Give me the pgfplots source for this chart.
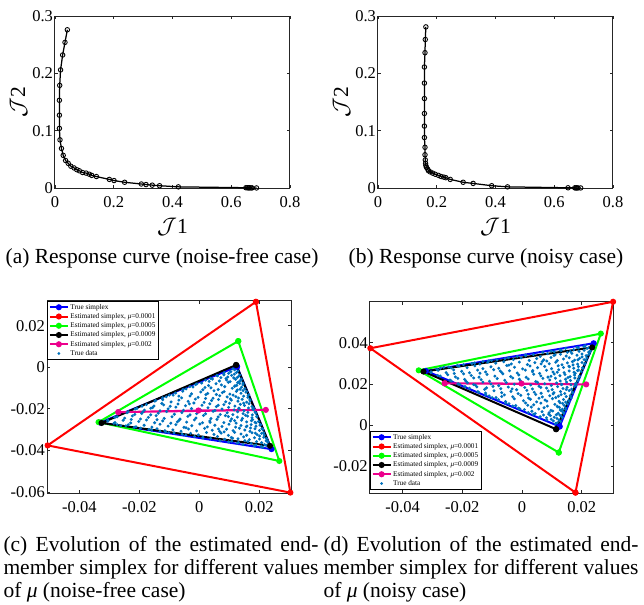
\documentclass[border=0pt]{standalone}
\usepackage{pgfplots}
\pgfplotsset{compat=1.18}
\usepackage{fontspec}
\setmainfont{Liberation Serif}

\definecolor{mblue}{rgb}{0,0.447,0.741}
\definecolor{axgray}{gray}{0.15}

\pgfplotsset{
  mat/.style={
    scale only axis, clip=false,
    axis line style={axgray, line width=0.4pt},
    tick align=inside, tick pos=both, major tick length=1.2pt,
    every tick/.style={axgray, line width=0.3pt},
    tick label style={font=\fontsize{6.6}{7}\selectfont, text=black},
    yticklabel style={inner xsep=0.6pt},
    label style={font=\fontsize{8.6}{9}\selectfont},
    scaled ticks=false,
  },
  resp/.style={mat, width=94pt, height=68.8pt,
    xmin=0, xmax=0.8, ymin=0, ymax=0.3,
    xtick={0,0.2,0.4,0.6,0.8}, xticklabels={0,0.2,0.4,0.6,0.8},
    ytick={0,0.1,0.2,0.3}, yticklabels={0,0.1,0.2,0.3},
    xlabel={$\mathcal{J}$1}, ylabel={$\mathcal{J}$2},
    xlabel style={at={(axis description cs:0.5,-0.225)}, anchor=center},
    ylabel style={at={(axis description cs:-0.155,0.5)}, anchor=center}},
  curve/.style={black, line width=0.5pt, mark=o, mark size=0.9pt, mark options={line width=0.35pt}},
  simp/.style={line width=0.8pt, mark=*, mark size=0.8pt},
  dots/.style={only marks, mark=*, mark size=0.38pt, mblue, mark options={draw=none, fill=mblue}},
  simplegend/.style={
    legend cell align=left,
    legend image code/.code={\draw[mark repeat=2,mark phase=2,##1] plot coordinates {(0pt,0pt) (3.6pt,0pt) (7.2pt,0pt)};},
    legend style={draw=black, line width=0.3pt, fill=white,
      font=\fontsize{2.9}{3.5}\selectfont, inner sep=0.6pt, row sep=0pt,
      nodes={inner xsep=0.6pt, inner ysep=0.4pt, text height=2.2pt, text depth=0.7pt}}},
}

\begin{document}
\begin{tikzpicture}
\path[use as bounding box] (0,0) rectangle (257.6pt,-241.6pt);

% (a) response curve, noise-free
\begin{axis}[resp, at={(22pt,-75.2pt)}, anchor=south west]
\addplot[curve] coordinates {
(0.042,0.276) (0.034,0.254) (0.026,0.232) (0.019,0.206) (0.016,0.179) (0.015,0.153)
(0.015,0.127) (0.015,0.104) (0.017,0.084) (0.022,0.069) (0.028,0.057) (0.036,0.048)
(0.045,0.043) (0.054,0.038) (0.065,0.035) (0.074,0.032) (0.083,0.030) (0.094,0.027)
(0.106,0.026) (0.117,0.024) (0.125,0.022) (0.141,0.020) (0.185,0.015) (0.201,0.013)
(0.237,0.010) (0.294,0.007) (0.310,0.006) (0.331,0.005) (0.356,0.004) (0.420,0.002)
(0.650,0.0005) (0.655,0.0004) (0.659,0.0003) (0.662,0.0003) (0.667,0.0002) (0.671,0.0002)
(0.686,0.0001)};
\end{axis}

% (b) response curve, noisy
\begin{axis}[resp, at={(151.2pt,-75.2pt)}, anchor=south west]
\addplot[curve] coordinates {
(0.163,0.281) (0.161,0.259) (0.160,0.236) (0.158,0.211) (0.158,0.183) (0.158,0.156)
(0.158,0.130) (0.158,0.108) (0.158,0.088) (0.160,0.071) (0.160,0.058) (0.161,0.049)
(0.162,0.043) (0.163,0.039) (0.165,0.036) (0.169,0.033) (0.172,0.030) (0.178,0.028)
(0.186,0.026) (0.195,0.024) (0.206,0.022) (0.215,0.020) (0.224,0.019) (0.231,0.018)
(0.246,0.015) (0.290,0.010) (0.324,0.008) (0.387,0.004) (0.441,0.002) (0.647,0.0004)
(0.670,0.0003) (0.674,0.0002) (0.677,0.0002) (0.681,0.0001) (0.690,0.0001)};
\end{axis}

% (c) simplexes, noise-free
\begin{axis}[mat, simplegend, width=97.6pt, height=76.9pt,
  at={(18.8pt,-197.2pt)}, anchor=south west,
  xmin=-0.0508, xmax=0.0306, ymin=-0.0605, ymax=0.032,
  xtick={-0.04,-0.02,0,0.02}, xticklabels={-0.04,-0.02,0,0.02},
  ytick={-0.06,-0.04,-0.02,0,0.02}, yticklabels={-0.06,-0.04,-0.02,0,0.02},
  legend style={at={(0,1)}, anchor=north west}]
\addplot[dots, forget plot] coordinates {
(0.0118,-0.0012) (0.0105,-0.0021) (0.0124,-0.0025) (0.0098,-0.0029) (0.0129,-0.0018) (0.0112,-0.0008)
(0.0061,-0.0041) (0.0082,-0.0036) (0.0095,-0.0047) (0.0117,-0.0033) (0.0131,-0.0044) (0.0072,-0.0050) (0.0108,-0.0039) (0.0127,-0.0049)
(0.0021,-0.0062) (0.0044,-0.0057) (0.0067,-0.0066) (0.0089,-0.0054) (0.0103,-0.0069) (0.0121,-0.0058) (0.0138,-0.0064) (0.0033,-0.0068) (0.0115,-0.0051) (0.0132,-0.0070)
(-0.0012,-0.0083) (0.0008,-0.0076) (0.0031,-0.0088) (0.0056,-0.0079) (0.0074,-0.0085) (0.0097,-0.0072) (0.0119,-0.0089) (0.0135,-0.0078) (0.0146,-0.0084) (0.0128,-0.0074)
(-0.0044,-0.0104) (-0.0021,-0.0095) (0.0012,-0.0108) (0.0039,-0.0099) (0.0063,-0.0107) (0.0085,-0.0093) (0.0110,-0.0101) (0.0127,-0.0109) (0.0141,-0.0096) (0.0152,-0.0103) (0.0118,-0.0092)
(-0.0079,-0.0124) (-0.0055,-0.0115) (-0.0026,-0.0128) (0.0005,-0.0119) (0.0028,-0.0126) (0.0049,-0.0113) (0.0077,-0.0122) (0.0102,-0.0129) (0.0124,-0.0116) (0.0139,-0.0125) (0.0156,-0.0120) (0.0146,-0.0112)
(-0.0110,-0.0142) (-0.0087,-0.0134) (-0.0059,-0.0147) (-0.0031,-0.0138) (-0.0004,-0.0145) (0.0022,-0.0132) (0.0046,-0.0149) (0.0068,-0.0137) (0.0093,-0.0143) (0.0113,-0.0134) (0.0131,-0.0148) (0.0148,-0.0139) (0.0162,-0.0145) (0.0122,-0.0141)
(-0.0148,-0.0163) (-0.0122,-0.0156) (-0.0094,-0.0167) (-0.0068,-0.0158) (-0.0037,-0.0164) (-0.0013,-0.0153) (0.0016,-0.0169) (0.0041,-0.0160) (0.0064,-0.0155) (0.0088,-0.0166) (0.0107,-0.0158) (0.0129,-0.0163) (0.0143,-0.0154) (0.0158,-0.0168) (0.0169,-0.0161)
(-0.0176,-0.0179) (-0.0151,-0.0186) (-0.0125,-0.0174) (-0.0097,-0.0188) (-0.0071,-0.0177) (-0.0046,-0.0185) (-0.0018,-0.0172) (0.0009,-0.0183) (0.0035,-0.0176) (0.0057,-0.0189) (0.0082,-0.0180) (0.0101,-0.0173) (0.0119,-0.0187) (0.0137,-0.0178) (0.0151,-0.0184) (0.0166,-0.0175) (0.0176,-0.0189)
(-0.0208,-0.0198) (-0.0183,-0.0206) (-0.0156,-0.0194) (-0.0131,-0.0209) (-0.0104,-0.0200) (-0.0078,-0.0192) (-0.0053,-0.0207) (-0.0026,-0.0199) (0.0003,-0.0204) (0.0029,-0.0195) (0.0052,-0.0208) (0.0076,-0.0201) (0.0098,-0.0193) (0.0116,-0.0205) (0.0133,-0.0198) (0.0149,-0.0209) (0.0164,-0.0196) (0.0181,-0.0203)
(-0.0241,-0.0219) (-0.0215,-0.0227) (-0.0188,-0.0214) (-0.0162,-0.0229) (-0.0137,-0.0221) (-0.0109,-0.0213) (-0.0083,-0.0226) (-0.0058,-0.0218) (-0.0031,-0.0229) (-0.0005,-0.0215) (0.0021,-0.0224) (0.0046,-0.0212) (0.0070,-0.0227) (0.0093,-0.0219) (0.0112,-0.0228) (0.0128,-0.0214) (0.0146,-0.0223) (0.0162,-0.0217) (0.0177,-0.0229) (0.0189,-0.0221)
(-0.0274,-0.0238) (-0.0249,-0.0245) (-0.0223,-0.0234) (-0.0196,-0.0249) (-0.0170,-0.0241) (-0.0144,-0.0233) (-0.0117,-0.0246) (-0.0091,-0.0238) (-0.0064,-0.0249) (-0.0038,-0.0236) (-0.0011,-0.0244) (0.0014,-0.0232) (0.0039,-0.0247) (0.0063,-0.0239) (0.0087,-0.0233) (0.0108,-0.0248) (0.0127,-0.0240) (0.0144,-0.0246) (0.0161,-0.0235) (0.0176,-0.0243) (0.0192,-0.0238)
(-0.0305,-0.0259) (-0.0281,-0.0266) (-0.0254,-0.0255) (-0.0229,-0.0268) (-0.0202,-0.0261) (-0.0176,-0.0254) (-0.0149,-0.0267) (-0.0122,-0.0258) (-0.0095,-0.0269) (-0.0068,-0.0256) (-0.0042,-0.0264) (-0.0016,-0.0253) (0.0011,-0.0267) (0.0035,-0.0259) (0.0059,-0.0251) (0.0082,-0.0266) (0.0104,-0.0258) (0.0123,-0.0269) (0.0141,-0.0255) (0.0158,-0.0263) (0.0174,-0.0257) (0.0189,-0.0268) (0.0198,-0.0261)
(-0.0262,-0.0281) (-0.0237,-0.0277) (-0.0211,-0.0286) (-0.0184,-0.0279) (-0.0158,-0.0288) (-0.0131,-0.0274) (-0.0104,-0.0283) (-0.0078,-0.0276) (-0.0051,-0.0289) (-0.0025,-0.0281) (0.0002,-0.0273) (0.0027,-0.0287) (0.0052,-0.0279) (0.0076,-0.0285) (0.0099,-0.0274) (0.0121,-0.0288) (0.0139,-0.0280) (0.0157,-0.0286) (0.0173,-0.0276) (0.0189,-0.0284) (0.0203,-0.0279)
(-0.0196,-0.0293) (-0.0168,-0.0299) (-0.0141,-0.0296) (-0.0115,-0.0305) (-0.0088,-0.0301) (-0.0061,-0.0308) (-0.0036,-0.0297) (-0.0009,-0.0306) (0.0018,-0.0294) (0.0043,-0.0303) (0.0068,-0.0309) (0.0091,-0.0298) (0.0113,-0.0305) (0.0134,-0.0293) (0.0152,-0.0302) (0.0169,-0.0308) (0.0186,-0.0296) (0.0201,-0.0304) (0.0212,-0.0299)
(-0.0112,-0.0311) (-0.0084,-0.0316) (-0.0057,-0.0322) (-0.0029,-0.0318) (-0.0003,-0.0326) (0.0024,-0.0314) (0.0049,-0.0323) (0.0073,-0.0317) (0.0097,-0.0328) (0.0118,-0.0313) (0.0139,-0.0321) (0.0158,-0.0327) (0.0176,-0.0315) (0.0193,-0.0324) (0.0208,-0.0318) (0.0217,-0.0326)
(0.0012,-0.0336) (0.0038,-0.0342) (0.0061,-0.0333) (0.0085,-0.0347) (0.0107,-0.0338) (0.0129,-0.0344) (0.0148,-0.0335) (0.0167,-0.0348) (0.0184,-0.0339) (0.0201,-0.0345) (0.0215,-0.0337) (0.0224,-0.0343)
(0.0108,-0.0356) (0.0131,-0.0362) (0.0152,-0.0353) (0.0173,-0.0366) (0.0191,-0.0358) (0.0208,-0.0363) (0.0223,-0.0354) (0.0229,-0.0361)
(0.0189,-0.0374) (0.0207,-0.0381) (0.0224,-0.0376) (0.0236,-0.0387) (0.0218,-0.0372)
(0.0083,-0.0026) (0.0038,-0.0053) (-0.0008,-0.0080) (-0.0054,-0.0107) (-0.0100,-0.0134) (-0.0145,-0.0160) (-0.0191,-0.0187) (-0.0237,-0.0214) (-0.0282,-0.0241) (0.0059,-0.0039) (-0.0031,-0.0093) (-0.0122,-0.0147) (-0.0214,-0.0201) (-0.0305,-0.0255)
(-0.0274,-0.0276) (-0.0217,-0.0289) (-0.0159,-0.0301) (-0.0102,-0.0314) (-0.0045,-0.0327) (0.0012,-0.0340) (0.0069,-0.0353) (0.0127,-0.0365) (0.0184,-0.0378) (-0.0245,-0.0282) (-0.0131,-0.0308) (-0.0016,-0.0333) (0.0098,-0.0359) (0.0212,-0.0385)
(0.0135,-0.0037) (0.0146,-0.0076) (0.0158,-0.0116) (0.0169,-0.0156) (0.0181,-0.0196) (0.0192,-0.0235) (0.0204,-0.0275) (0.0215,-0.0315) (0.0227,-0.0354) (0.0140,-0.0057) (0.0163,-0.0136) (0.0186,-0.0215) (0.0209,-0.0295) (0.0232,-0.0374)
(0.0091,-0.0061) (0.0019,-0.0097) (-0.0068,-0.0139) (0.0057,-0.0131) (-0.0162,-0.0197) (-0.0227,-0.0251) (-0.0285,-0.0270) (0.0154,-0.0231) (0.0171,-0.0292) (0.0083,-0.0311)
(-0.0044,-0.0291) (0.0136,-0.0106) (0.0104,-0.0152) (-0.0009,-0.0223) (0.0036,-0.0265) (0.0118,-0.0257) (0.0165,-0.0132) (0.0178,-0.0252) (0.0201,-0.0331) (0.0146,-0.0372)
(0.0063,-0.0183) (-0.0119,-0.0181) (-0.0192,-0.0222) (0.0021,-0.0150) (0.0139,-0.0061) (0.0083,-0.0117) (-0.0033,-0.0176) (0.0132,-0.0197) (0.0097,-0.0237) (0.0159,-0.0283)
(0.0187,-0.0317) (0.0111,-0.0341) (0.0162,-0.0358) (-0.0141,-0.0252) (-0.0073,-0.0263) (0.0064,-0.0297) (0.0178,-0.0201) (0.0125,-0.0087) (0.0148,-0.0173) (0.0186,-0.0265)};
\addplot[simp, blue] coordinates {(0.0126,0.0003) (-0.0331,-0.0266) (0.0241,-0.0394) (0.0126,0.0003)};
\addlegendentry{True simplex}
\addplot[simp, red] coordinates {(0.0189,0.0315) (-0.0506,-0.0376) (0.0304,-0.0603) (0.0189,0.0315)};
\addlegendentry{Estimated simplex, \textit{μ}=0.0001}
\addplot[simp, green] coordinates {(0.0130,0.0126) (-0.0336,-0.0264) (0.0267,-0.0451) (0.0130,0.0126)};
\addlegendentry{Estimated simplex, \textit{μ}=0.0005}
\addplot[simp, black] coordinates {(0.0123,0.0011) (-0.0326,-0.0268) (0.0236,-0.0378) (0.0123,0.0011)};
\addlegendentry{Estimated simplex, \textit{μ}=0.0009}
\addplot[simp, magenta] coordinates {(-0.0270,-0.0216) (-0.0003,-0.0208) (0.0222,-0.0205) (-0.0270,-0.0216)};
\addlegendentry{Estimated simplex, \textit{μ}=0.002}
\addlegendimage{dots, legend image code/.code={\fill[mblue] (3.6pt,0pt) circle (0.38pt);}}
\addlegendentry{True data}
\end{axis}

% (d) simplexes, noisy
\begin{axis}[mat, simplegend, width=97.7pt, height=76.5pt,
  at={(147.9pt,-197.2pt)}, anchor=south west,
  xmin=-0.051, xmax=0.0308, ymin=-0.0328, ymax=0.0598,
  xtick={-0.04,-0.02,0,0.02}, xticklabels={-0.04,-0.02,0,0.02},
  ytick={-0.02,0,0.02,0.04}, yticklabels={-0.02,0,0.02,0.04},
  legend style={at={(0,0)}, anchor=south west, yshift=1.2pt}]
\addplot[dots, forget plot] coordinates {
(0.0118,0.0012) (0.0105,0.0021) (0.0124,0.0025) (0.0098,0.0029) (0.0129,0.0018) (0.0112,0.0008)
(0.0061,0.0041) (0.0082,0.0036) (0.0095,0.0047) (0.0117,0.0033) (0.0131,0.0044) (0.0072,0.0050) (0.0108,0.0039) (0.0127,0.0049)
(0.0021,0.0062) (0.0044,0.0057) (0.0067,0.0066) (0.0089,0.0054) (0.0103,0.0069) (0.0121,0.0058) (0.0138,0.0064) (0.0033,0.0068) (0.0115,0.0051) (0.0132,0.0070)
(-0.0012,0.0083) (0.0008,0.0076) (0.0031,0.0088) (0.0056,0.0079) (0.0074,0.0085) (0.0097,0.0072) (0.0119,0.0089) (0.0135,0.0078) (0.0146,0.0084) (0.0128,0.0074)
(-0.0044,0.0104) (-0.0021,0.0095) (0.0012,0.0108) (0.0039,0.0099) (0.0063,0.0107) (0.0085,0.0093) (0.0110,0.0101) (0.0127,0.0109) (0.0141,0.0096) (0.0152,0.0103) (0.0118,0.0092)
(-0.0079,0.0124) (-0.0055,0.0115) (-0.0026,0.0128) (0.0005,0.0119) (0.0028,0.0126) (0.0049,0.0113) (0.0077,0.0122) (0.0102,0.0129) (0.0124,0.0116) (0.0139,0.0125) (0.0156,0.0120) (0.0146,0.0112)
(-0.0110,0.0142) (-0.0087,0.0134) (-0.0059,0.0147) (-0.0031,0.0138) (-0.0004,0.0145) (0.0022,0.0132) (0.0046,0.0149) (0.0068,0.0137) (0.0093,0.0143) (0.0113,0.0134) (0.0131,0.0148) (0.0148,0.0139) (0.0162,0.0145) (0.0122,0.0141)
(-0.0148,0.0163) (-0.0122,0.0156) (-0.0094,0.0167) (-0.0068,0.0158) (-0.0037,0.0164) (-0.0013,0.0153) (0.0016,0.0169) (0.0041,0.0160) (0.0064,0.0155) (0.0088,0.0166) (0.0107,0.0158) (0.0129,0.0163) (0.0143,0.0154) (0.0158,0.0168) (0.0169,0.0161)
(-0.0176,0.0179) (-0.0151,0.0186) (-0.0125,0.0174) (-0.0097,0.0188) (-0.0071,0.0177) (-0.0046,0.0185) (-0.0018,0.0172) (0.0009,0.0183) (0.0035,0.0176) (0.0057,0.0189) (0.0082,0.0180) (0.0101,0.0173) (0.0119,0.0187) (0.0137,0.0178) (0.0151,0.0184) (0.0166,0.0175) (0.0176,0.0189)
(-0.0208,0.0198) (-0.0183,0.0206) (-0.0156,0.0194) (-0.0131,0.0209) (-0.0104,0.0200) (-0.0078,0.0192) (-0.0053,0.0207) (-0.0026,0.0199) (0.0003,0.0204) (0.0029,0.0195) (0.0052,0.0208) (0.0076,0.0201) (0.0098,0.0193) (0.0116,0.0205) (0.0133,0.0198) (0.0149,0.0209) (0.0164,0.0196) (0.0181,0.0203)
(-0.0241,0.0219) (-0.0215,0.0227) (-0.0188,0.0214) (-0.0162,0.0229) (-0.0137,0.0221) (-0.0109,0.0213) (-0.0083,0.0226) (-0.0058,0.0218) (-0.0031,0.0229) (-0.0005,0.0215) (0.0021,0.0224) (0.0046,0.0212) (0.0070,0.0227) (0.0093,0.0219) (0.0112,0.0228) (0.0128,0.0214) (0.0146,0.0223) (0.0162,0.0217) (0.0177,0.0229) (0.0189,0.0221)
(-0.0274,0.0238) (-0.0249,0.0245) (-0.0223,0.0234) (-0.0196,0.0249) (-0.0170,0.0241) (-0.0144,0.0233) (-0.0117,0.0246) (-0.0091,0.0238) (-0.0064,0.0249) (-0.0038,0.0236) (-0.0011,0.0244) (0.0014,0.0232) (0.0039,0.0247) (0.0063,0.0239) (0.0087,0.0233) (0.0108,0.0248) (0.0127,0.0240) (0.0144,0.0246) (0.0161,0.0235) (0.0176,0.0243) (0.0192,0.0238)
(-0.0305,0.0259) (-0.0281,0.0266) (-0.0254,0.0255) (-0.0229,0.0268) (-0.0202,0.0261) (-0.0176,0.0254) (-0.0149,0.0267) (-0.0122,0.0258) (-0.0095,0.0269) (-0.0068,0.0256) (-0.0042,0.0264) (-0.0016,0.0253) (0.0011,0.0267) (0.0035,0.0259) (0.0059,0.0251) (0.0082,0.0266) (0.0104,0.0258) (0.0123,0.0269) (0.0141,0.0255) (0.0158,0.0263) (0.0174,0.0257) (0.0189,0.0268) (0.0198,0.0261)
(-0.0262,0.0281) (-0.0237,0.0277) (-0.0211,0.0286) (-0.0184,0.0279) (-0.0158,0.0288) (-0.0131,0.0274) (-0.0104,0.0283) (-0.0078,0.0276) (-0.0051,0.0289) (-0.0025,0.0281) (0.0002,0.0273) (0.0027,0.0287) (0.0052,0.0279) (0.0076,0.0285) (0.0099,0.0274) (0.0121,0.0288) (0.0139,0.0280) (0.0157,0.0286) (0.0173,0.0276) (0.0189,0.0284) (0.0203,0.0279)
(-0.0196,0.0293) (-0.0168,0.0299) (-0.0141,0.0296) (-0.0115,0.0305) (-0.0088,0.0301) (-0.0061,0.0308) (-0.0036,0.0297) (-0.0009,0.0306) (0.0018,0.0294) (0.0043,0.0303) (0.0068,0.0309) (0.0091,0.0298) (0.0113,0.0305) (0.0134,0.0293) (0.0152,0.0302) (0.0169,0.0308) (0.0186,0.0296) (0.0201,0.0304) (0.0212,0.0299)
(-0.0112,0.0311) (-0.0084,0.0316) (-0.0057,0.0322) (-0.0029,0.0318) (-0.0003,0.0326) (0.0024,0.0314) (0.0049,0.0323) (0.0073,0.0317) (0.0097,0.0328) (0.0118,0.0313) (0.0139,0.0321) (0.0158,0.0327) (0.0176,0.0315) (0.0193,0.0324) (0.0208,0.0318) (0.0217,0.0326)
(0.0012,0.0336) (0.0038,0.0342) (0.0061,0.0333) (0.0085,0.0347) (0.0107,0.0338) (0.0129,0.0344) (0.0148,0.0335) (0.0167,0.0348) (0.0184,0.0339) (0.0201,0.0345) (0.0215,0.0337) (0.0224,0.0343)
(0.0108,0.0356) (0.0131,0.0362) (0.0152,0.0353) (0.0173,0.0366) (0.0191,0.0358) (0.0208,0.0363) (0.0223,0.0354) (0.0229,0.0361)
(0.0189,0.0374) (0.0207,0.0381) (0.0224,0.0376) (0.0236,0.0387) (0.0218,0.0372)
(0.0083,0.0026) (0.0038,0.0053) (-0.0008,0.0080) (-0.0054,0.0107) (-0.0100,0.0134) (-0.0145,0.0160) (-0.0191,0.0187) (-0.0237,0.0214) (-0.0282,0.0241) (0.0059,0.0039) (-0.0031,0.0093) (-0.0122,0.0147) (-0.0214,0.0201) (-0.0305,0.0255)
(-0.0274,0.0276) (-0.0217,0.0289) (-0.0159,0.0301) (-0.0102,0.0314) (-0.0045,0.0327) (0.0012,0.0340) (0.0069,0.0353) (0.0127,0.0365) (0.0184,0.0378) (-0.0245,0.0282) (-0.0131,0.0308) (-0.0016,0.0333) (0.0098,0.0359) (0.0212,0.0385)
(0.0135,0.0037) (0.0146,0.0076) (0.0158,0.0116) (0.0169,0.0156) (0.0181,0.0196) (0.0192,0.0235) (0.0204,0.0275) (0.0215,0.0315) (0.0227,0.0354) (0.0140,0.0057) (0.0163,0.0136) (0.0186,0.0215) (0.0209,0.0295) (0.0232,0.0374)
(0.0091,0.0061) (0.0019,0.0097) (-0.0068,0.0139) (0.0057,0.0131) (-0.0162,0.0197) (-0.0227,0.0251) (-0.0285,0.0270) (0.0154,0.0231) (0.0171,0.0292) (0.0083,0.0311)
(-0.0044,0.0291) (0.0136,0.0106) (0.0104,0.0152) (-0.0009,0.0223) (0.0036,0.0265) (0.0118,0.0257) (0.0165,0.0132) (0.0178,0.0252) (0.0201,0.0331) (0.0146,0.0372)
(0.0063,0.0183) (-0.0119,0.0181) (-0.0192,0.0222) (0.0021,0.0150) (0.0139,0.0061) (0.0083,0.0117) (-0.0033,0.0176) (0.0132,0.0197) (0.0097,0.0237) (0.0159,0.0283)
(0.0187,0.0317) (0.0111,0.0341) (0.0162,0.0358) (-0.0141,0.0252) (-0.0073,0.0263) (0.0064,0.0297) (0.0178,0.0201) (0.0125,0.0087) (0.0148,0.0173) (0.0186,0.0265)};
\addplot[simp, blue] coordinates {(0.0126,-0.0006) (-0.0322,0.0263) (0.0240,0.0397) (0.0126,-0.0006)};
\addlegendentry{True simplex}
\addplot[simp, red] coordinates {(0.0179,-0.0326) (-0.0508,0.0373) (0.0305,0.0598) (0.0179,-0.0326)};
\addlegendentry{Estimated simplex, \textit{μ}=0.0001}
\addplot[simp, green] coordinates {(0.0123,-0.0132) (-0.0346,0.0266) (0.0264,0.0444) (0.0123,-0.0132)};
\addlegendentry{Estimated simplex, \textit{μ}=0.0005}
\addplot[simp, black] coordinates {(0.0114,-0.0019) (-0.0330,0.0260) (0.0235,0.0377) (0.0114,-0.0019)};
\addlegendentry{Estimated simplex, \textit{μ}=0.0009}
\addplot[simp, magenta] coordinates {(-0.0259,0.0203) (-0.0002,0.0202) (0.0215,0.0198) (-0.0259,0.0203)};
\addlegendentry{Estimated simplex, \textit{μ}=0.002}
\addlegendimage{dots, legend image code/.code={\fill[mblue] (3.6pt,0pt) circle (0.38pt);}}
\addlegendentry{True data}
\end{axis}

% sub-captions
\begin{scope}[every node/.style={inner sep=0pt, font=\fontsize{8.6}{9.2}\selectfont}]
\node[anchor=base] at (64.8pt,-105.2pt) {(a) Response curve (noise-free case)};
\node[anchor=base] at (194.4pt,-105.2pt) {(b) Response curve (noisy case)};
\node[anchor=base west, align=left] at (1.2pt,-238.8pt)
  {\hbox to 126pt{(c) Evolution of the estimated end-}\\
   \hbox to 126pt{member simplex for different values}\\
   of \textit{μ} (noise-free case)};
\node[anchor=base west, align=left] at (129.2pt,-238.8pt)
  {\hbox to 126pt{(d) Evolution of the estimated end-}\\
   \hbox to 126pt{member simplex for different values}\\
   of \textit{μ} (noisy case)};
\end{scope}
\end{tikzpicture}
\end{document}
